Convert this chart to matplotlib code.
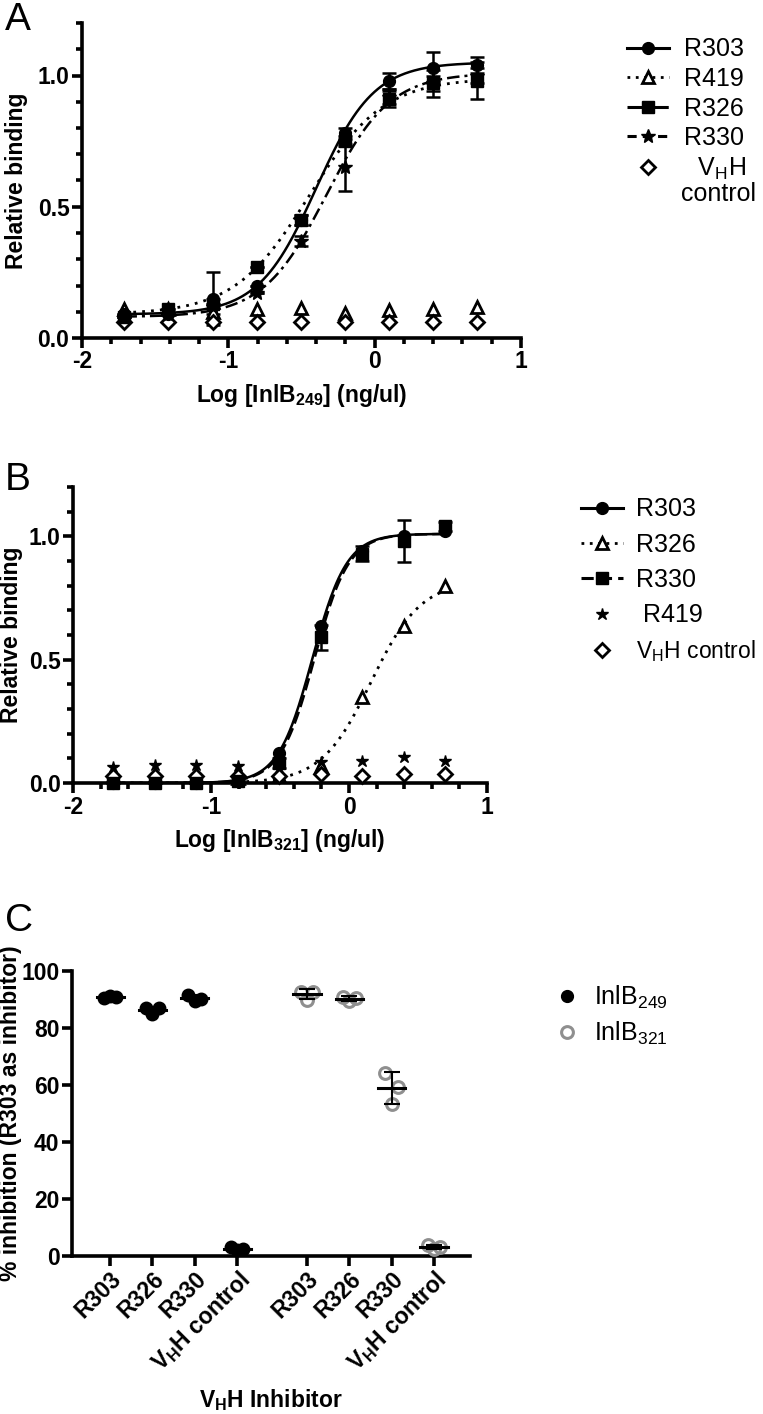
import numpy as np
import matplotlib
matplotlib.use("Agg")
import matplotlib.pyplot as plt
from matplotlib.lines import Line2D
from matplotlib.ticker import MultipleLocator

plt.rcParams["font.family"] = ["Liberation Sans", "DejaVu Sans"]
plt.rcParams["mathtext.fontset"] = "custom"
plt.rcParams["mathtext.rm"] = "Liberation Sans"
plt.rcParams["mathtext.bf"] = "Liberation Sans:bold"
plt.rcParams["mathtext.default"] = "regular"

# ---------------------------------------------------------------------------
# Data
# ---------------------------------------------------------------------------
conc_ng_ul = [0.0195, 0.039, 0.078, 0.156, 0.3125, 0.625, 1.25, 2.5, 5.0]

# panel A: InlB249 titration
a_r303 = [0.09, 0.09, 0.15, 0.20, 0.45, 0.78, 0.98, 1.03, 1.04]
a_r303_sd = [0.0, 0.0, 0.10, 0.0, 0.02, 0.02, 0.03, 0.06, 0.03]
a_r419 = [0.11, 0.11, 0.10, 0.11, 0.115, 0.095, 0.105, 0.11, 0.12]
a_r326 = [0.08, 0.11, 0.13, 0.27, 0.45, 0.75, 0.91, 0.97, 0.98]
a_r326_sd = [0.0, 0.0, 0.0, 0.0, 0.02, 0.02, 0.03, 0.05, 0.07]
a_r330 = [0.08, 0.09, 0.12, 0.17, 0.37, 0.65, 0.92, 0.97, 1.00]
a_r330_sd = [0.0, 0.0, 0.03, 0.0, 0.02, 0.09, 0.03, 0.03, 0.03]
a_ctrl = [0.06, 0.06, 0.06, 0.06, 0.06, 0.06, 0.06, 0.06, 0.06]
# 4PL fits: bottom, top, logEC50, hill slope
a_fit_r303 = [0.09, 1.05, -0.40, 2.2]
a_fit_r326 = [0.09, 0.99, -0.45, 1.7]
a_fit_r330 = [0.08, 1.01, -0.33, 2.0]

# panel B: InlB321 titration
b_r303 = [0.0, 0.0, 0.0, 0.02, 0.12, 0.635, 0.94, 1.0, 1.02]
b_r326 = [0.03, 0.03, 0.03, 0.02, 0.03, 0.07, 0.35, 0.635, 0.80]
b_r330 = [0.0, 0.0, 0.0, 0.01, 0.08, 0.59, 0.93, 0.98, 1.04]
b_r330_sd = [0.0, 0.0, 0.0, 0.0, 0.02, 0.05, 0.03, 0.085, 0.02]
b_r419 = [0.065, 0.075, 0.075, 0.07, 0.06, 0.085, 0.09, 0.105, 0.09]
b_ctrl = [0.03, 0.03, 0.03, 0.03, 0.03, 0.035, 0.03, 0.035, 0.035]
b_fit_r303 = [0.0, 1.01, -0.265, 3.5]
b_fit_r330 = [0.0, 1.01, -0.25, 3.5]
b_fit_r326 = [0.0, 0.82, 0.16, 2.4]

# panel C: % inhibition, triplicates
c_inhibitors = ["R303", "R326", "R330", r"V$_\mathbf{H}$H control"]
c_inlb249 = [[90.5, 91.2, 91.0], [87.0, 85.0, 87.0], [91.5, 89.5, 90.3], [3.2, 2.0, 2.6]]
c_inlb321 = [[92.8, 89.8, 92.8], [91.0, 89.3, 90.5], [64.3, 53.3, 59.4], [4.0, 2.5, 3.0]]

# ---------------------------------------------------------------------------
W, H = 763, 1414
fig = plt.figure(figsize=(W / 100, H / 100), dpi=100)
fig.patch.set_facecolor("white")

TICK_FS = 16.5
LEG_FS = 18
SPINE_W = 2.6


def px_axes(left, top, right, bottom):
    return fig.add_axes([left / W, 1 - bottom / H, (right - left) / W, (bottom - top) / H])


def style_axes(ax):
    for s in ["top", "right"]:
        ax.spines[s].set_visible(False)
    for s in ["left", "bottom"]:
        ax.spines[s].set_linewidth(SPINE_W)
    ax.tick_params(which="major", length=7, width=SPINE_W, labelsize=TICK_FS, pad=2)
    ax.tick_params(which="minor", length=4.5, width=SPINE_W)
    for lab in ax.get_xticklabels() + ax.get_yticklabels():
        lab.set_fontweight("bold")


def hill(x, p):
    bottom, top, logec50, slope = p
    return bottom + (top - bottom) / (1 + 10 ** ((logec50 - x) * slope))


def binding_axes(ax, xlabel):
    ax.set_xlim(-2, 1)
    ax.set_ylim(0, 1.2)
    ax.xaxis.set_major_locator(MultipleLocator(1))
    ax.xaxis.set_minor_locator(MultipleLocator(0.2))
    ax.yaxis.set_major_locator(MultipleLocator(0.5))
    ax.yaxis.set_minor_locator(MultipleLocator(0.1))
    ax.set_yticks([0, 0.5, 1.0])
    ax.set_yticklabels(["0.0", "0.5", "1.0"])
    ax.set_xticks([-2, -1, 0, 1])
    ax.set_xticklabels(["-2", "-1", "0", "1"])
    style_axes(ax)
    ax.set_ylabel("Relative binding", fontsize=TICK_FS, fontweight="bold")
    ax.set_xlabel(xlabel, fontsize=TICK_FS, fontweight="bold", labelpad=6)


def ylabel_at(ax, x_px):
    # put the y label baseline at a given pixel column
    bb = ax.get_position()
    ax.yaxis.set_label_coords((x_px / W - bb.x0) / bb.width, 0.5)


logc = np.log10(conc_ng_ul)
xfit = np.linspace(logc[0], logc[-1], 300)
mk = dict(color="black", clip_on=False, zorder=4)
eb = dict(ecolor="black", elinewidth=1.8, capsize=5, capthick=1.8)

# ---------------------------------------------------------------- panel A
axA = px_axes(82, 23, 521, 338)
axA.plot(xfit, hill(xfit, a_fit_r303), color="black", lw=1.8, zorder=3)
axA.plot(xfit, hill(xfit, a_fit_r326), color="black", lw=2.0, ls=(0, (1, 2.2)), zorder=3)
axA.plot(xfit, hill(xfit, a_fit_r330), color="black", lw=1.8, ls=(0, (5, 2, 1.2, 2)), zorder=3)
axA.errorbar(logc, a_r303, yerr=a_r303_sd, fmt="o", ms=8.5, mfc="black", mec="black", **eb, **mk)
axA.errorbar(logc, a_r326, yerr=a_r326_sd, fmt="s", ms=8, mfc="black", mec="black", **eb, **mk)
axA.errorbar(logc, a_r330, yerr=a_r330_sd, fmt="*", ms=10, mfc="black", mec="black", **eb, **mk)
axA.plot(logc, a_r419, ls="none", marker="^", ms=8.5, mfc="white", mec="black", mew=2, **mk)
axA.plot(logc, a_ctrl, ls="none", marker="D", ms=7, mfc="white", mec="black", mew=2, **mk)
binding_axes(axA, r"Log [InlB$_\mathbf{249}$] (ng/ul)")
ylabel_at(axA, 28)

hA = [
    Line2D([], [], color="black", lw=2.2, marker="o", ms=8.5),
    Line2D([], [], color="black", lw=2.0, ls=(0, (1, 2)), marker="^", ms=8.5, mfc="white", mew=2),
    Line2D([], [], color="black", lw=2.2, ls=(0, (6, 1.5)), marker="s", ms=8.5),
    Line2D([], [], color="black", lw=2.2, ls=(0, (3, 2)), marker="*", ms=10),
    Line2D([], [], color="black", ls="none", marker="D", ms=7, mfc="white", mew=2),
]
fig.legend(hA, ["R303", "R419", "R326", "R330", "  V$_H$H"],
           loc="upper left", bbox_to_anchor=(604 / W, 1 - 15 / H), frameon=False,
           fontsize=LEG_FS, handlelength=1.7, handletextpad=0.6, labelspacing=0.22)
fig.text(718 / W, 1 - 194 / H, "control", fontsize=LEG_FS, ha="center", va="center")

# ---------------------------------------------------------------- panel B
axB = px_axes(73, 487, 487, 783)
axB.plot(xfit, hill(xfit, b_fit_r303), color="black", lw=1.8, zorder=3)
axB.plot(xfit, hill(xfit, b_fit_r330), color="black", lw=1.8, ls=(0, (5, 2)), zorder=3)
axB.plot(xfit, hill(xfit, b_fit_r326), color="black", lw=2.0, ls=(0, (1, 2.2)), zorder=3)
axB.plot(logc, b_r303, ls="none", marker="o", ms=8.5, mfc="black", mec="black", **mk)
axB.errorbar(logc, b_r330, yerr=b_r330_sd, fmt="s", ms=8, mfc="black", mec="black", **eb, **mk)
axB.plot(logc, b_r326, ls="none", marker="^", ms=8.5, mfc="white", mec="black", mew=2, **mk)
axB.plot(logc, b_r419, ls="none", marker="*", ms=9, mfc="black", mec="black", **mk)
axB.plot(logc, b_ctrl, ls="none", marker="D", ms=7, mfc="white", mec="black", mew=2, **mk)
binding_axes(axB, r"Log [InlB$_\mathbf{321}$] (ng/ul)")
ylabel_at(axB, 23)

hB = [
    Line2D([], [], color="black", lw=2.2, marker="o", ms=8.5),
    Line2D([], [], color="black", lw=2.0, ls=(0, (1, 2)), marker="^", ms=8.5, mfc="white", mew=2),
    Line2D([], [], color="black", lw=2.2, ls=(0, (4, 2)), marker="s", ms=8.5),
    Line2D([], [], color="black", ls="none", marker="*", ms=9),
    Line2D([], [], color="black", ls="none", marker="D", ms=7, mfc="white", mew=2),
]
legB = fig.legend(hB, ["R303", "R326", "R330", " R419", "V$_H$H control"],
                  loc="upper left", bbox_to_anchor=(558 / W, 1 - 475 / H), frameon=False,
                  fontsize=LEG_FS, handlelength=1.7, handletextpad=0.5, labelspacing=0.45)
legB.get_texts()[-1].set_fontsize(16.5)

# ---------------------------------------------------------------- panel C
axC = px_axes(72, 971, 470, 1256)
positions = [0, 1, 2, 3, 4.65, 5.65, 6.65, 7.65]
jitter = [-0.15, 0.0, 0.15]
groups = [(c_inlb249, dict(mfc="black", mec="black", mew=1.5)),
          (c_inlb321, dict(mfc="none", mec="#8f8f8f", mew=2.2))]
for g, (vals, style) in enumerate(groups):
    for i, reps in enumerate(vals):
        x0 = positions[g * 4 + i]
        axC.plot([x0 + j for j in jitter], reps, ls="none", marker="o", ms=8.5,
                 clip_on=False, zorder=3, **style)
        m = np.mean(reps)
        sd = np.std(reps, ddof=1)
        axC.plot([x0 - 0.32, x0 + 0.32], [m, m], color="black", lw=2.2, zorder=4,
                 clip_on=False)
        axC.errorbar([x0], [m], yerr=[sd], fmt="none", ecolor="black", elinewidth=1.5,
                     capsize=6, capthick=1.5, zorder=4, clip_on=False)

axC.set_xlim(-0.9, 8.5)
axC.set_ylim(0, 100)
axC.set_yticks([0, 20, 40, 60, 80, 100])
axC.set_xticks(positions)
axC.set_xticklabels(c_inhibitors * 2, rotation=45, ha="right", rotation_mode="anchor")
style_axes(axC)
axC.tick_params(axis="x", pad=1)
axC.set_ylabel("% inhibition (R303 as inhibitor)", fontsize=TICK_FS, fontweight="bold")
ylabel_at(axC, 22)
axC.set_xlabel(r"V$_\mathbf{H}$H Inhibitor", fontsize=TICK_FS, fontweight="bold",
               labelpad=8)

hC = [
    Line2D([], [], ls="none", marker="o", ms=8.5, mfc="black", mec="black"),
    Line2D([], [], ls="none", marker="o", ms=8.5, mfc="none", mec="#8f8f8f", mew=2.2),
]
fig.legend(hC, ["InlB$_{249}$", "InlB$_{321}$"], loc="upper left",
           bbox_to_anchor=(532 / W, 1 - 961 / H), frameon=False, fontsize=LEG_FS,
           handlelength=1.0, handletextpad=0.6, labelspacing=0.35)

# panel letters
for letter, y in [("A", 2), ("B", 462), ("C", 903)]:
    fig.text(5 / W, 1 - y / H, letter, fontsize=28, va="top", ha="left")

fig.savefig("out.png", dpi=100, facecolor="white")
